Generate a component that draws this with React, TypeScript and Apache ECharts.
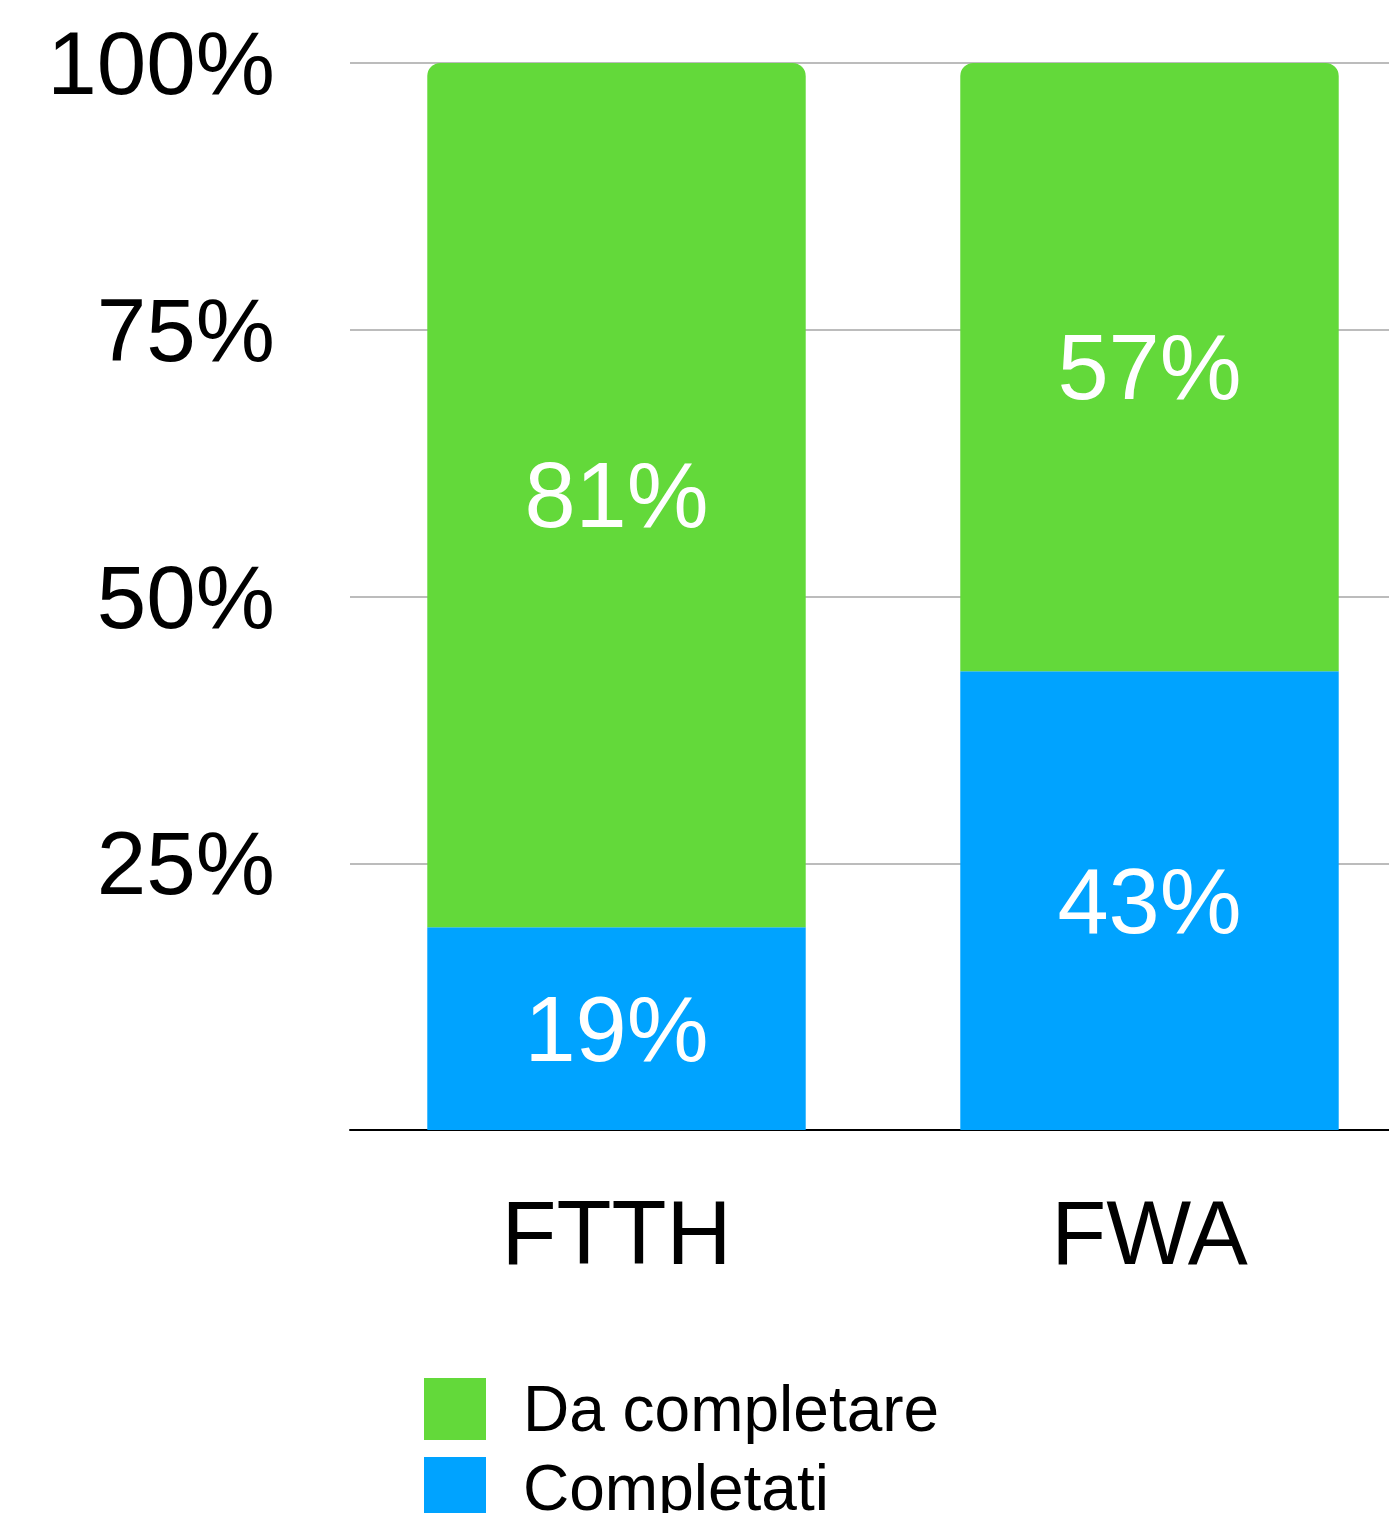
import React, { useEffect, useRef } from "react";
import * as echarts from "echarts";

const categories = ["FTTH", "FWA"];
const completati = [19, 43];
const daCompletare = [81, 57];
const yTicks = [0, 25, 50, 75, 100];

const GREEN = "#63d93a";
const BLUE = "#00a3ff";
const FONT = "'Liberation Sans', Arial, Helvetica, sans-serif";

export default function App() {
  const ref = useRef<HTMLDivElement>(null);
  useEffect(() => {
    document.body.style.margin = "0";
    document.body.style.overflow = "hidden";
    document.documentElement.style.overflow = "hidden";
    if (!ref.current) return;
    const chart = echarts.init(ref.current, null, { renderer: "svg" });
    chart.setOption({
      animation: false,
      textStyle: { fontFamily: FONT },
      grid: { left: 350, right: 0, top: 63, bottom: 383, containLabel: false },
      legend: {
        orient: "vertical",
        left: 424,
        top: 1377,
        height: 400,
        padding: 0,
        itemWidth: 62,
        itemHeight: 62,
        itemGap: 15,
        icon: "rect",
        data: ["Da completare", "Completati"],
        textStyle: { fontSize: 64, color: "#000", fontFamily: FONT, padding: [0, 0, 0, 32] },
      },
      xAxis: {
        type: "category",
        data: categories,
        axisLine: { lineStyle: { color: "#000", width: 2 } },
        axisTick: { show: false },
        axisLabel: { fontSize: 90, color: "#000", margin: 58, fontFamily: FONT },
      },
      yAxis: {
        type: "value",
        min: yTicks[0],
        max: yTicks[yTicks.length - 1],
        interval: 25,
        axisLine: { show: false },
        axisTick: { show: false },
        splitLine: { lineStyle: { color: "#bcbcbc", width: 2 } },
        axisLabel: {
          fontSize: 89,
          color: "#000",
          margin: 75,
          fontFamily: FONT,
          formatter: (v: number) => (v === 0 ? "" : v + "%"),
        },
      },
      series: [
        {
          name: "Completati",
          type: "bar",
          stack: "s",
          barWidth: "71%",
          data: completati,
          itemStyle: { color: BLUE },
          label: { show: true, position: "inside", color: "#fff", fontSize: 92, formatter: "{c}%", fontFamily: FONT },
        },
        {
          name: "Da completare",
          type: "bar",
          stack: "s",
          barWidth: "71%",
          data: daCompletare,
          itemStyle: { color: GREEN, borderRadius: [13, 13, 0, 0] },
          label: { show: true, position: "inside", color: "#fff", fontSize: 92, formatter: "{c}%", fontFamily: FONT },
        },
      ],
    });
    return () => chart.dispose();
  }, []);
  return (
    <div style={{ width: 1389, height: 1513, overflow: "hidden" }}>
      <div ref={ref} style={{ width: 1416, height: 1513 }} />
    </div>
  );
}
